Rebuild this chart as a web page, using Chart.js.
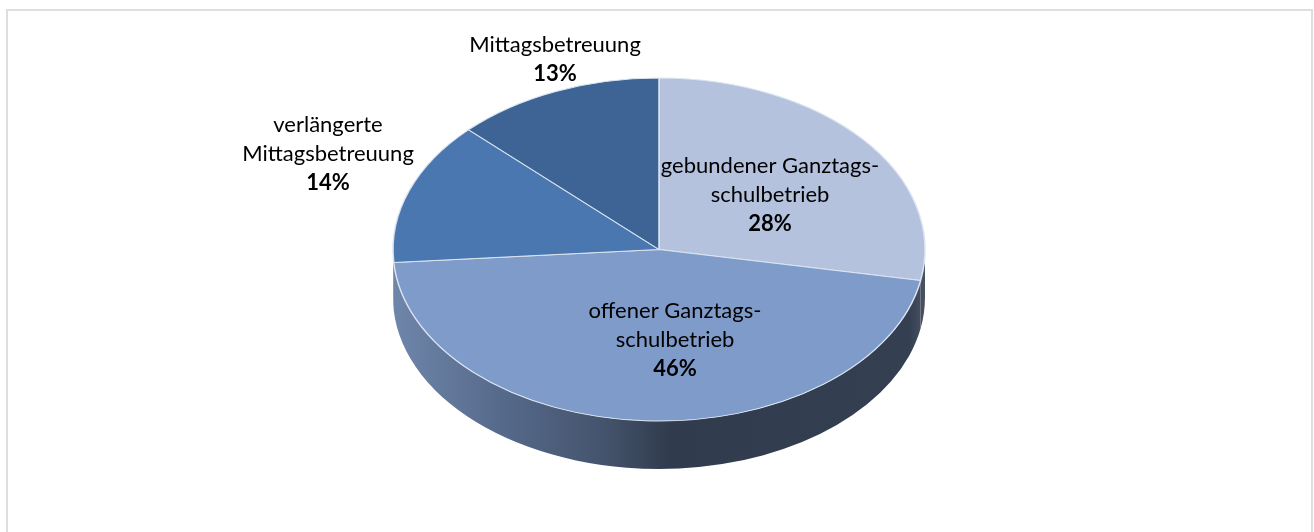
<!DOCTYPE html>
<html lang="de">
<head>
    <meta charset="UTF-8">
    <title>Betreuungsformen</title>
    <script src="https://cdn.jsdelivr.net/npm/chart.js"></script>
    <style>
        html, body { margin: 0; padding: 0; background: #fff; overflow: hidden; }
        #wrap { position: relative; width: 1314px; height: 532px; overflow: hidden; }
        #frame { position: absolute; left: 6px; top: 9px; width: 1303px; height: 600px; border: 2px solid #dedede; }
        canvas { position: absolute; left: 0; top: 0; }
    </style>
</head>
<body>
    <div id="wrap">
        <div id="frame"></div>
        <canvas id="pie" width="1314" height="532"></canvas>
    </div>

    <script>
        // Werte aus dem Bild geschaetzt, Beschriftung zeigt sie gerundet
        const categories = [
            ['gebundener Ganztags-', 'schulbetrieb'],
            ['offener Ganztags-', 'schulbetrieb'],
            ['verlängerte', 'Mittagsbetreuung'],
            ['Mittagsbetreuung']
        ];
        const shares = [27.9, 45.9, 13.5, 12.7];
        const sliceColors = ['#b4c2de', '#7f9bca', '#4a77b0', '#3d6495'];

        // Mitte der ersten Textzeile je Beschriftung
        const labelPlaces = [[770, 166], [675, 311], [328, 125], [555, 45]];
        const lineGap = 29;

        const radiusX = 266;
        const radiusY = 171.5;
        const depth = 48;

        const tiltedPie = {
            id: 'tiltedPie',
            beforeDatasetsDraw(chart) {
                const ctx = chart.ctx;
                const arcs = chart.getDatasetMeta(0).data;

                // Seitenwand unter dem vorderen Rand
                const side = ctx.createLinearGradient(arcs[0].x - radiusX, 0, arcs[0].x + radiusX, 0);
                side.addColorStop(0, '#6f86aa');
                side.addColorStop(0.2, '#566a8c');
                side.addColorStop(0.4, '#44536c');
                side.addColorStop(0.52, '#303b4d');
                side.addColorStop(0.97, '#343f52');
                side.addColorStop(1, '#4a5362');
                ctx.fillStyle = side;
                arcs.forEach(arc => {
                    const a = Math.max(arc.startAngle, 0);
                    const b = Math.min(arc.endAngle, Math.PI);
                    if (b <= a) return;
                    ctx.beginPath();
                    ctx.ellipse(arc.x, arc.y, radiusX, radiusY, 0, a, b);
                    ctx.ellipse(arc.x, arc.y + depth, radiusX, radiusY, 0, b, a, true);
                    ctx.closePath();
                    ctx.fill();
                });

                // Kreis zur Ellipse stauchen
                ctx.save();
                ctx.translate(arcs[0].x, arcs[0].y);
                ctx.scale(1, radiusY / radiusX);
                ctx.translate(-arcs[0].x, -arcs[0].y);
            },
            afterDatasetsDraw(chart) {
                chart.ctx.restore();
            },
            afterDraw(chart) {
                const ctx = chart.ctx;
                ctx.save();
                ctx.fillStyle = '#000';
                ctx.textAlign = 'center';
                ctx.textBaseline = 'middle';
                categories.forEach((lines, i) => {
                    const [x, y] = labelPlaces[i];
                    ctx.font = '400 22px Lato';
                    lines.forEach((line, n) => ctx.fillText(line, x, y + n * lineGap));
                    ctx.font = '700 22px Lato';
                    ctx.fillText(Math.round(shares[i]) + '%', x, y + lines.length * lineGap);
                });
                ctx.restore();
            }
        };

        new Chart(document.getElementById('pie').getContext('2d'), {
            type: 'pie',
            data: {
                labels: categories.map(c => c.join(' ')),
                datasets: [{
                    data: shares,
                    backgroundColor: sliceColors,
                    borderColor: '#dbe5f1',
                    borderWidth: 1.5,
                    clip: false
                }]
            },
            options: {
                responsive: false,
                animation: false,
                radius: radiusX,
                layout: { padding: { left: 4, bottom: 33 } },
                plugins: { legend: { display: false }, tooltip: { enabled: false } }
            },
            plugins: [tiltedPie]
        });
    </script>
</body>
</html>
